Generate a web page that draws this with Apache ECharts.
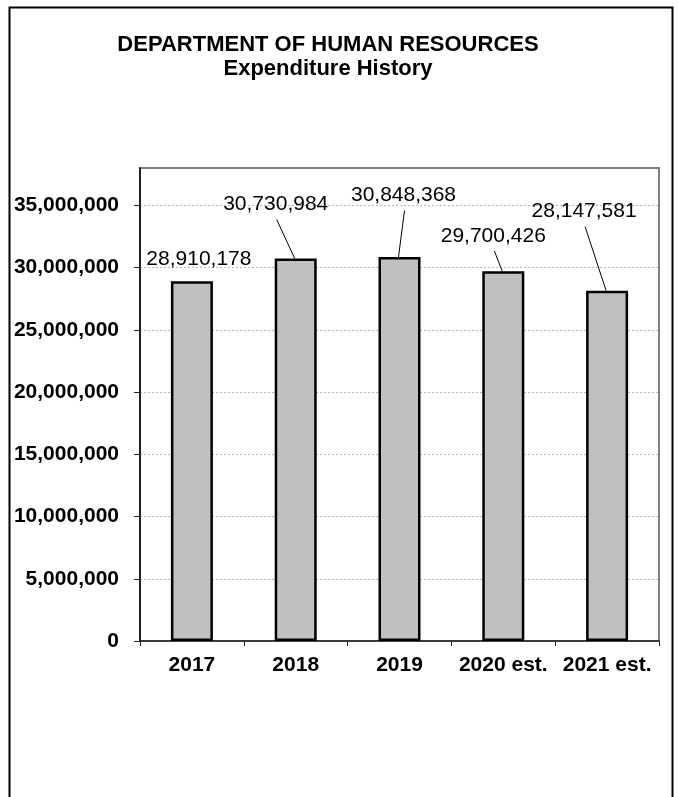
<!DOCTYPE html>
<html>
<head>
<meta charset="utf-8">
<title>Department of Human Resources – Expenditure History</title>
<script src="https://cdn.jsdelivr.net/npm/echarts@6/dist/echarts.min.js"></script>
<style>
  html, body { margin: 0; padding: 0; background: #fff; }
  #chart { width: 678px; height: 797px; }
</style>
</head>
<body>
<div id="chart"></div>
<script>
// Fiscal years shown on the category axis
const years = ['2017', '2018', '2019', '2020 est.', '2021 est.'];
// Expenditure per year (dollars)
const expenditures = [28910178, 30730984, 30848368, 29700426, 28147581];
// Value-axis tick values
const yTicks = [0, 5000000, 10000000, 15000000, 20000000, 25000000, 30000000, 35000000];
const yMax = 38000000;

// Label placement relative to the top centre of each bar: [dx, dy, hasLeader]
const labelOffsets = [
  [7, -22, false],
  [-20, -54, true],
  [4, -61.5, true],
  [-10, -35.5, true],
  [-23, -79, true]
];

const FONT = '"Liberation Sans", Arial, Helvetica, sans-serif';
const fmt = v => Number(v).toLocaleString('en-US');

const chart = echarts.init(document.getElementById('chart'), null, { renderer: 'canvas' });

chart.setOption({
  animation: false,
  backgroundColor: '#fff',
  textStyle: { fontFamily: FONT },
  graphic: [
    {
      type: 'rect',
      shape: { x: 9.5, y: 7.5, width: 663, height: 820 },
      style: { fill: 'none', stroke: '#000', lineWidth: 2 },
      z: 0
    },
    {
      type: 'text',
      style: {
        text: 'DEPARTMENT OF HUMAN RESOURCES',
        x: 328, y: 44.5, align: 'center', verticalAlign: 'middle',
        font: 'bold 22px ' + FONT, fill: '#000'
      }
    },
    {
      type: 'text',
      style: {
        text: 'Expenditure History',
        x: 328, y: 69, align: 'center', verticalAlign: 'middle',
        font: 'bold 22px ' + FONT, fill: '#000'
      }
    }
  ],
  grid: {
    left: 140, right: 19, top: 168, bottom: 156,
    show: true, borderColor: '#808080', borderWidth: 2, backgroundColor: 'transparent'
  },
  xAxis: {
    type: 'category',
    data: years,
    boundaryGap: true,
    axisLine: { show: true, lineStyle: { color: '#222', width: 1.5 } },
    axisTick: { show: true, interval: 0, length: 5, lineStyle: { color: '#222', width: 1 } },
    axisLabel: {
      interval: 0, hideOverlap: false,
      margin: 14, color: '#000', fontSize: 21, fontWeight: 'bold', fontFamily: FONT
    },
    splitLine: { show: false }
  },
  yAxis: {
    type: 'value',
    min: 0,
    max: yMax,
    interval: 5000000,
    axisLine: { show: true, lineStyle: { color: '#000', width: 1.5 } },
    axisTick: { show: true, length: 6, customValues: yTicks, lineStyle: { color: '#222', width: 1 } },
    axisLabel: {
      customValues: yTicks,
      margin: 21, color: '#000', fontSize: 21, fontWeight: 'bold', fontFamily: FONT,
      formatter: v => fmt(v)
    },
    splitLine: { show: true, lineStyle: { color: '#b8b8b8', width: 1, type: [2, 2] } }
  },
  series: [
    {
      type: 'bar',
      data: expenditures,
      barWidth: 42,
      itemStyle: { color: '#C0C0C0', borderColor: '#000', borderWidth: 2.5 },
      z: 2
    },
    {
      // value labels with leader lines pointing to the top of each bar
      type: 'custom',
      z: 3,
      data: expenditures.map((v, i) => [i, v]),
      renderItem: function (params, api) {
        const i = api.value(0);
        const v = api.value(1);
        const top = api.coord([i, v]);
        const off = labelOffsets[i];
        const lx = top[0] + off[0];
        const ly = top[1] + off[1];
        const children = [{
          type: 'text',
          style: {
            text: fmt(v), x: lx, y: ly, align: 'center', verticalAlign: 'middle',
            font: '21px ' + FONT, fill: '#000'
          }
        }];
        if (off[2]) {
          children.push({
            type: 'line',
            shape: { x1: lx + 1, y1: ly + 15, x2: top[0] - 1, y2: top[1] },
            style: { stroke: '#000', lineWidth: 1 }
          });
        }
        return { type: 'group', children: children };
      }
    }
  ]
});
</script>
</body>
</html>
